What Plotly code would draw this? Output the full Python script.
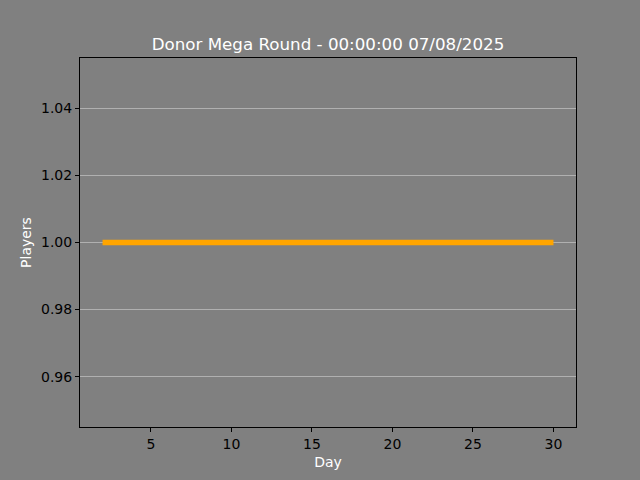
import plotly.graph_objects as go

days = list(range(2, 31))
players = [1] * len(days)

title_text = "Donor Mega Round - 00:00:00 07/08/2025"
x_ticks = [5, 10, 15, 20, 25, 30]
y_ticks = [0.96, 0.98, 1.00, 1.02, 1.04]
y_tick_labels = ["0.96", "0.98", "1.00", "1.02", "1.04"]

fig = go.Figure()
fig.add_trace(go.Scatter(x=days, y=players, mode="lines",
                         line=dict(color="#FFA500", width=5.5), hoverinfo="skip"))

fig.update_layout(
    width=640, height=480,
    paper_bgcolor="#808080", plot_bgcolor="#808080",
    margin=dict(l=80, r=64, t=58, b=53),
    showlegend=False,
    font=dict(family="DejaVu Sans", size=14, color="black"),
    title=dict(text=title_text, xref="paper", x=0.5, xanchor="center", y=1 - 44/480, yanchor="middle",
               font=dict(size=16.7, color="white", family="DejaVu Sans")),
)
fig.update_xaxes(
    range=[0.6, 31.4], tickvals=x_ticks, ticks="outside", ticklen=4, tickwidth=1,
    tickcolor="black", showgrid=False, zeroline=False,
    showline=True, linecolor="black", linewidth=1, mirror=True,
    title=dict(text="Day", font=dict(color="white", size=14), standoff=6),
    tickfont=dict(color="black", size=14),
)
fig.update_yaxes(
    range=[0.945, 1.055], tickvals=y_ticks, ticktext=y_tick_labels, ticks="outside",
    ticklen=4, tickwidth=1, tickcolor="black",
    showgrid=True, gridcolor="#b0b0b0", gridwidth=1, zeroline=False,
    showline=True, linecolor="black", linewidth=1, mirror=True,
    title=dict(text="Players", font=dict(color="white", size=14), standoff=6),
    tickfont=dict(color="black", size=14),
)

fig.write_html("out.html", config={"displayModeBar": False},
               post_script="document.body.style.margin='0';document.body.style.padding='0';document.body.style.background='#808080';")
